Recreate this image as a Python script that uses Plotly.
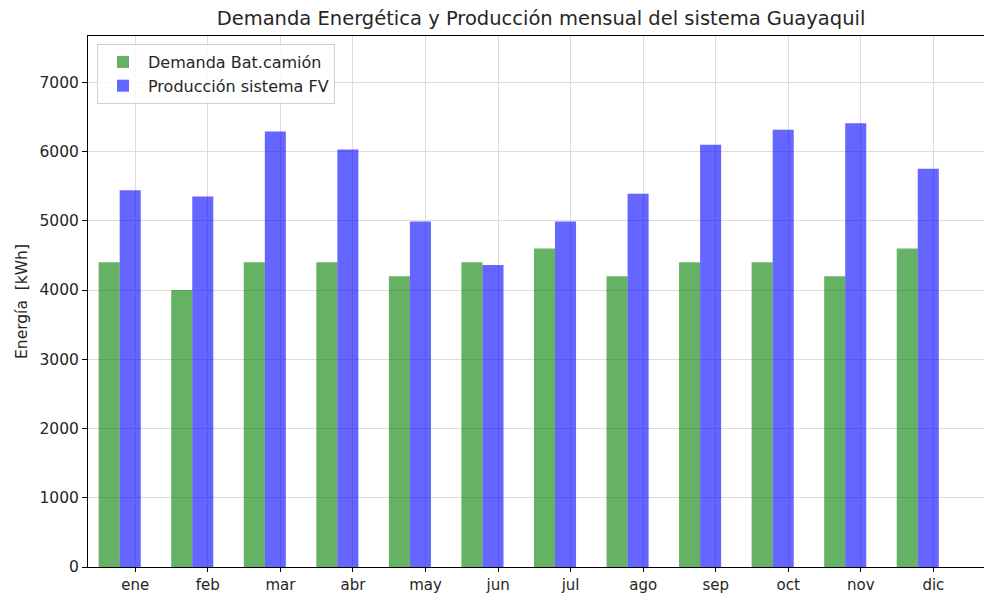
import plotly.graph_objects as go

meses = ["ene", "feb", "mar", "abr", "may", "jun", "jul", "ago", "sep", "oct", "nov", "dic"]
demanda = [4400, 4000, 4400, 4400, 4200, 4400, 4600, 4200, 4400, 4400, 4200, 4600]
produccion = [5440, 5350, 6290, 6030, 4990, 4360, 4990, 5390, 6100, 6315, 6410, 5750]
y_ticks = [0, 1000, 2000, 3000, 4000, 5000, 6000, 7000]

x = list(range(len(meses)))
x_dem = [i - 0.36 for i in x]
x_prod = [i - 0.07 for i in x]

FONT = "DejaVu Sans"
TXT = "#262626"

fig = go.Figure()
fig.add_trace(go.Bar(x=x_dem, y=demanda, width=0.29, name="Demanda Bat.camión",
                     legendgroup="a",
                     marker=dict(color="green", line=dict(width=0)), opacity=0.6))
fig.add_trace(go.Bar(x=x_prod, y=produccion, width=0.29, name="Producción sistema FV",
                     legendgroup="b",
                     marker=dict(color="blue", line=dict(width=0)), opacity=0.6))

fig.update_layout(
    width=984, height=594,
    margin=dict(l=88, r=0, t=36, b=27, autoexpand=False),
    paper_bgcolor="white", plot_bgcolor="white",
    font=dict(family=FONT, size=15, color=TXT),
    title=dict(text="Demanda Energética y Producción mensual del sistema Guayaquil",
               x=541 / 984, xanchor="center", y=1 - 18 / 594, yanchor="middle",
               font=dict(size=19.5, color=TXT)),
    barmode="overlay",
    showlegend=True,
    legend=dict(x=(97 - 88) / 896, y=1 - (44 - 36) / 531, xanchor="left", yanchor="top",
                bgcolor="rgba(255,255,255,0.8)", bordercolor="#d0d0d0", borderwidth=1,
                font=dict(size=16, color=TXT), traceorder="grouped", tracegroupgap=0,
                itemwidth=40),
)
fig.update_xaxes(
    range=[-0.652, 11.698], tickmode="array", tickvals=x, ticktext=meses,
    showline=True, linecolor="black", linewidth=1, mirror=True,
    ticks="outside", ticklen=4, tickcolor="black",
    showgrid=True, gridcolor="#dcdcdc", gridwidth=1, zeroline=False,
    tickfont=dict(size=15, color=TXT),
)
fig.update_yaxes(
    range=[0, 7669], tickmode="array", tickvals=y_ticks,
    showline=True, linecolor="black", linewidth=1, mirror=True,
    ticks="outside", ticklen=5, tickcolor="black",
    showgrid=True, gridcolor="#dcdcdc", gridwidth=1, zeroline=False,
    tickfont=dict(size=15.5, color=TXT),
    title=dict(text="Energía \u00a0[kWh]", font=dict(size=15.5, color=TXT), standoff=8),
)

fig.write_html("out.html", config={"displayModeBar": False},
               post_script="document.body.style.margin='0';document.body.style.padding='0';")
